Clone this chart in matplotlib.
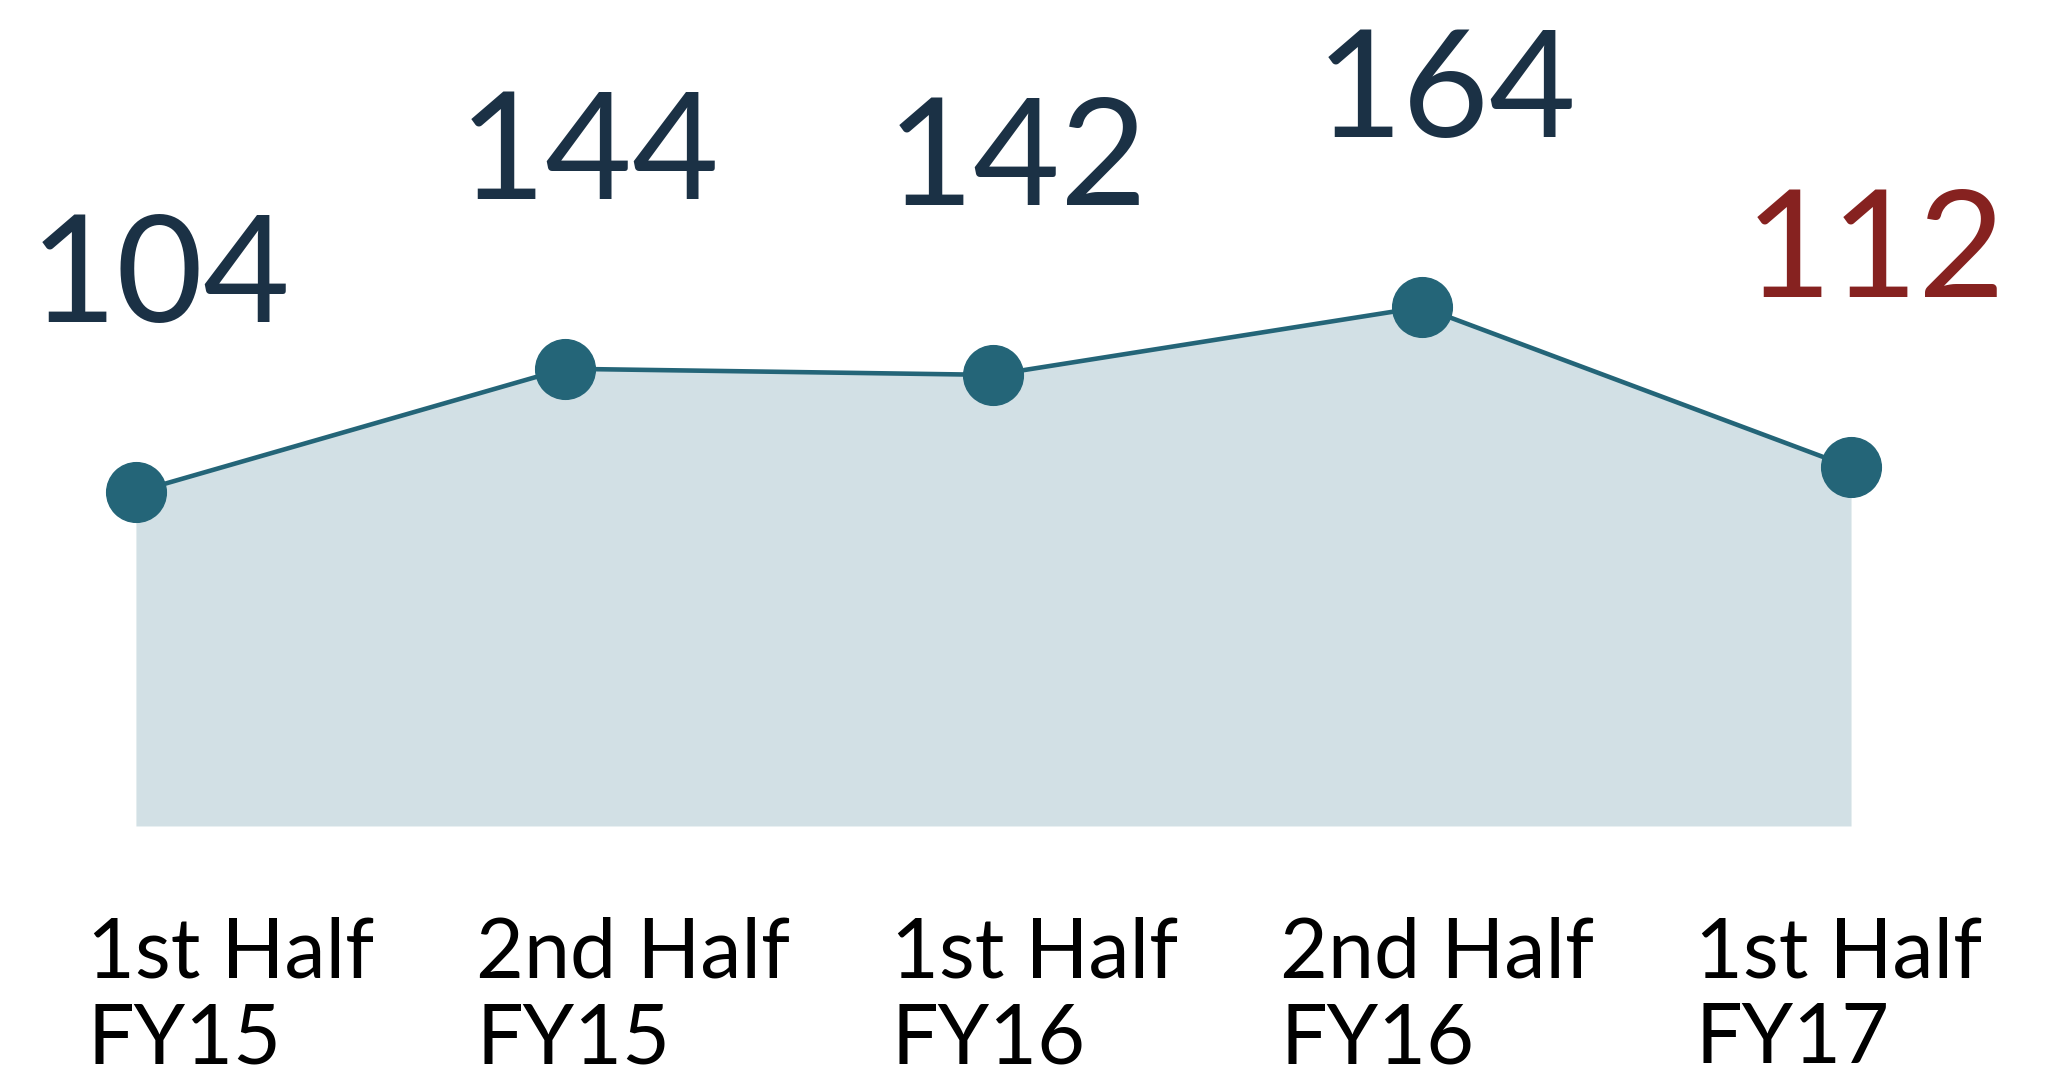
import numpy as np
import matplotlib.pyplot as plt

# half-year periods and their counts
periods = ["1st Half\nFY15", "2nd Half\nFY15", "1st Half\nFY16", "2nd Half\nFY16", "1st Half\nFY17"]
counts = [104, 144, 142, 164, 112]
label_colors = ["#1b3145", "#1b3145", "#1b3145", "#1b3145", "#862220"]

line_color = "#246578"
fill_color = "#d2e0e5"

plt.rcParams['font.family'] = ['Lato', 'DejaVu Sans']

fig = plt.figure(figsize=(20.47, 10.68), dpi=100)
ax = fig.add_axes([0, 0, 1, 1])
ax.axis('off')

x = np.arange(len(counts))
ax.set_xlim(-0.317, 4.457)
ax.set_ylim(-82.8, 263.6)

ax.fill_between(x, counts, -4.3, color=fill_color, linewidth=0, zorder=1)
ax.plot(x, counts, color=line_color, linewidth=3.3, zorder=2)
ax.plot(x, counts, 'o', color=line_color, markersize=43, zorder=3)

for xi, v, c in zip(x, counts, label_colors):
    ax.annotate(str(v), (xi, v), xytext=(24, 170), textcoords='offset pixels',
                ha='center', va='baseline', fontsize=108, color=c)

# category labels sit on their own even spacing below the chart
W, H = 2047.0, 1068.0
for i, lab in enumerate(periods):
    fig.text((231 + 402 * i) / W, 1 - 1063 / H, lab, ha='center', va='baseline',
             multialignment='left', fontsize=59.5, linespacing=1.15, color='black')

fig.savefig('out.png', dpi=100)
